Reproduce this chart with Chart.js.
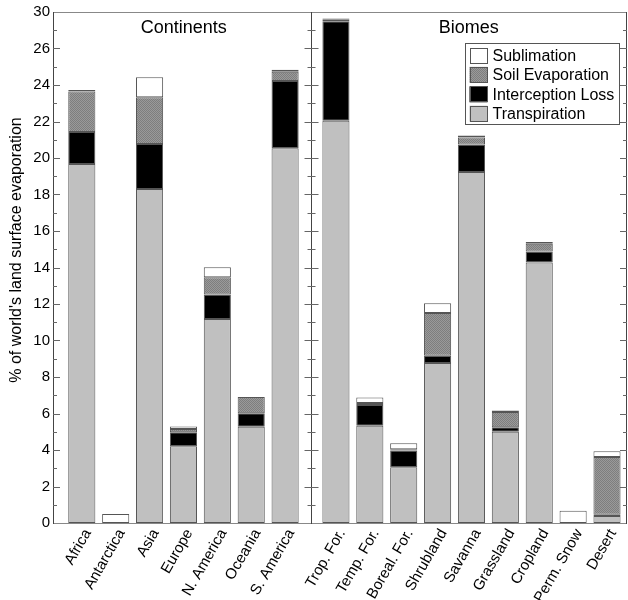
<!DOCTYPE html>
<html><head><meta charset="utf-8">
<script src="https://cdn.jsdelivr.net/npm/chart.js@4.4.1/dist/chart.umd.min.js"></script>
<style>html,body{margin:0;padding:0;background:#fff}canvas{display:block}</style>
</head><body>
<canvas id="c" width="628" height="600"></canvas>
<script>
const categories = ['Africa','Antarctica','Asia','Europe','N. America','Oceania','S. America',
  'Trop. For.','Temp. For.','Boreal. For.','Shrubland','Savanna','Grassland','Cropland','Perm. Snow','Desert'];
const continentCount = 7;
const transpiration = [19.67, null, 18.3, 4.2, 11.18, 5.28, 20.54, 22.04, 5.33, 3.06, 8.77, 19.23, 5.0, 14.27, null, 0.38];
const interception  = [1.76, null, 2.47, 0.77, 1.34, 0.73, 3.68, 5.46, 1.13, 0.91, 0.4, 1.51, 0.24, 0.61, null, 0.07];
const soilEvap      = [2.22, null, 2.56, 0.18, 0.94, 0.89, 0.51, 0.1, 0.12, 0.07, 2.34, 0.38, 0.84, 0.42, null, 3.17];
const sublimation   = [0.07, 0.5, 1.1, 0.14, 0.55, null, 0.11, 0.04, 0.3, 0.33, 0.53, 0.11, 0.09, 0.1, 0.67, 0.31];
const yTickValues = [0,2,4,6,8,10,12,14,16,18,20,22,24,26,28];
const yTickLabels = ['0','2','4','6','8','10','12','14','16','18','20','22','24','26','30'];
const groupTitles = ['Continents','Biomes'];
const seriesNames = ['Transpiration','Interception Loss','Soil Evaporation','Sublimation'];
const yTitle = "% of world's land surface evaporation";

const FONT = '"Liberation Sans", Arial, sans-serif';
const canvas = document.getElementById('c');
const ctx = canvas.getContext('2d');

// position on the index axis: biomes group follows a half-slot gap
const xPos = categories.map((c, i) => i < continentCount ? i : i + 0.5);

function makePattern() {
  const p = document.createElement('canvas'); p.width = 2; p.height = 2;
  const g = p.getContext('2d');
  g.fillStyle = '#9a9a9a'; g.fillRect(0, 0, 2, 2);
  g.fillStyle = '#7e7e7e'; g.fillRect(0, 0, 1, 1); g.fillRect(1, 1, 1, 1);
  return ctx.createPattern(p, 'repeat');
}
const soilPattern = makePattern();
const fills = ['#c0c0c0', '#000000', soilPattern, '#ffffff'];
const series = [transpiration, interception, soilEvap, sublimation];

const datasets = series.map((vals, k) => ({
  label: seriesNames[k],
  data: vals.map((v, i) => ({ x: xPos[i], y: v })),
  backgroundColor: fills[k],
  borderColor: '#555555',
  borderWidth: 1,
  borderSkipped: false,
  barPercentage: 0.8,
  categoryPercentage: 1.0
}));

const framePlugin = {
  id: 'frame',
  afterDatasetsDraw(chart) {
    const { ctx, chartArea: a, scales: { x, y } } = chart;
    const sep = x.getPixelForValue(continentCount - 0.25);
    ctx.save();
    ctx.lineWidth = 1;
    ctx.strokeStyle = '#888888';
    ctx.beginPath();
    ctx.moveTo(a.left, a.top + 0.5); ctx.lineTo(a.right, a.top + 0.5);
    ctx.moveTo(a.left, a.bottom + 0.5); ctx.lineTo(a.right, a.bottom + 0.5);
    ctx.stroke();
    ctx.strokeStyle = '#444444';
    ctx.beginPath();
    ctx.moveTo(Math.round(a.left) + 0.5, a.top); ctx.lineTo(Math.round(a.left) + 0.5, a.bottom + 1);
    ctx.moveTo(Math.round(sep) + 0.5, a.top); ctx.lineTo(Math.round(sep) + 0.5, a.bottom + 1);
    ctx.moveTo(Math.round(a.right) - 0.5, a.top); ctx.lineTo(Math.round(a.right) - 0.5, a.bottom + 1);
    ctx.stroke();
    ctx.strokeStyle = '#666666';
    ctx.beginPath();
    for (let v = 1; v < 28; v++) {
      const py = Math.round(y.getPixelForValue(v)) + 0.5;
      const len = v % 2 === 0 ? 7 : 4;
      ctx.moveTo(a.left, py); ctx.lineTo(a.left + len, py);
      ctx.moveTo(sep - len + 1, py); ctx.lineTo(sep + len + 1, py);
      ctx.moveTo(a.right, py); ctx.lineTo(a.right - len, py);
    }
    ctx.stroke();
    ctx.fillStyle = '#000';
    ctx.font = '18px ' + FONT;
    ctx.textAlign = 'center';
    ctx.textBaseline = 'alphabetic';
    ctx.fillText(groupTitles[0], (a.left + sep) / 2 + 2, a.top + 21);
    ctx.fillText(groupTitles[1], (sep + a.right) / 2, a.top + 21);
    ctx.save();
    ctx.translate(17, 250);
    ctx.rotate(-Math.PI / 2);
    ctx.font = '16px ' + FONT;
    ctx.textBaseline = 'middle';
    ctx.fillText(yTitle, 0, 0);
    ctx.restore();
    const bx = a.right - 161.5, by = a.top + 31.5, bw = 154, bh = 81;
    ctx.fillStyle = '#fff';
    ctx.fillRect(bx, by, bw, bh);
    ctx.strokeStyle = '#555555';
    ctx.strokeRect(bx, by, bw, bh);
    ctx.font = '16px ' + FONT;
    ctx.textAlign = 'left';
    ctx.textBaseline = 'middle';
    for (let r = 0; r < 4; r++) {
      const k = 3 - r;
      const sy = by + 4 + r * 19.4;
      ctx.fillStyle = fills[k];
      ctx.fillRect(bx + 4, sy, 18, 16);
      ctx.strokeStyle = '#555555';
      ctx.strokeRect(Math.round(bx + 4) + 0.5, Math.round(sy) + 0.5, 17, 15);
      ctx.fillStyle = '#000';
      ctx.fillText(seriesNames[k], bx + 27, sy + 9);
    }
    ctx.restore();
  }
};

new Chart(canvas, {
  type: 'bar',
  data: { datasets },
  options: {
    responsive: false,
    animation: false,
    devicePixelRatio: 1,
    layout: { padding: { top: 11, right: 1, left: 0, bottom: 0 } },
    plugins: { legend: { display: false }, tooltip: { enabled: false }, title: { display: false } },
    scales: {
      x: {
        type: 'linear', min: -0.85, max: 16.09, stacked: true, offset: false,
        grid: { display: false, drawTicks: false, offset: false }, border: { display: false },
        afterBuildTicks: s => { s.ticks = xPos.map(v => ({ value: v })); },
        afterFit: s => { s.height = 77; },
        ticks: {
          autoSkip: false, maxRotation: 60, minRotation: 60, padding: 3, labelOffset: 6,
          color: '#000', font: { family: FONT, size: 15 },
          callback: (v, i) => categories[i]
        }
      },
      y: {
        type: 'linear', min: 0, max: 28, stacked: true,
        grid: { display: false, drawTicks: false }, border: { display: false },
        afterBuildTicks: s => { s.ticks = yTickValues.map(v => ({ value: v })); },
        afterFit: s => { s.width = 53; },
        ticks: {
          padding: 3, color: '#000', font: { family: FONT, size: 15 },
          callback: (v, i) => yTickLabels[i]
        }
      }
    }
  },
  plugins: [framePlugin]
});
</script>
</body></html>
